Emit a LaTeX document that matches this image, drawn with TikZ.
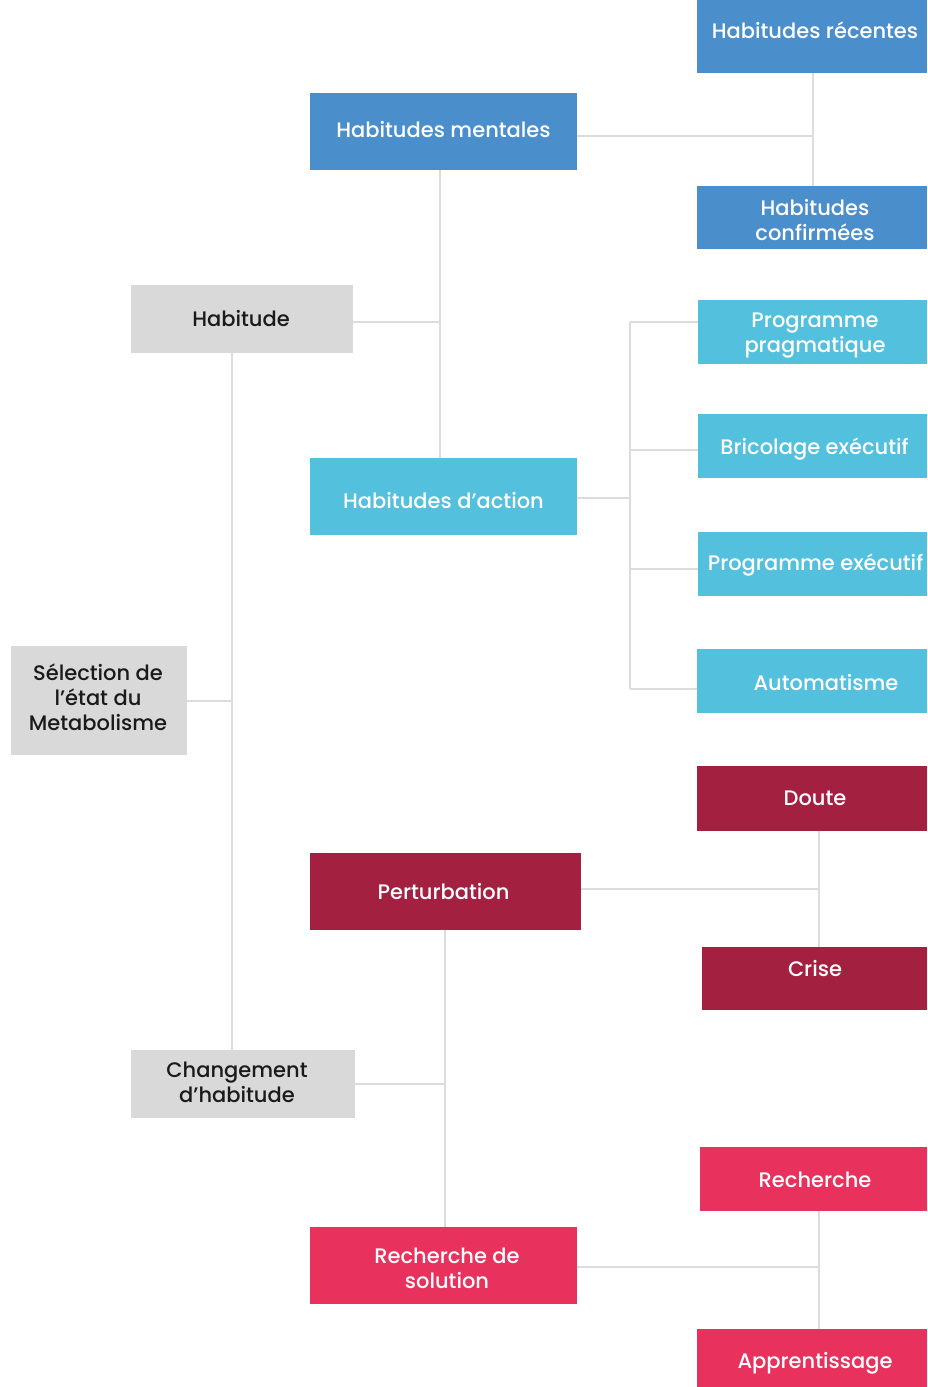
\documentclass[tikz,border=0pt]{standalone}
\usepackage{fontspec}
\setmainfont{Poppins}[UprightFont={* Medium}]
\definecolor{cblue}{HTML}{4B8ECC}
\definecolor{clight}{HTML}{53C0DE}
\definecolor{cgray}{HTML}{D9D9D9}
\definecolor{cdark}{HTML}{A32040}
\definecolor{cpink}{HTML}{E8315C}
\definecolor{cline}{HTML}{DCDCDC}
\definecolor{ctext}{HTML}{1A1A1A}
\begin{document}
\begin{tikzpicture}[x=1pt,y=-1pt,
  box/.style={rectangle,inner sep=0pt,draw=none},
  bluebox/.style={box,fill=cblue},
  lightbox/.style={box,fill=clight},
  graybox/.style={box,fill=cgray},
  darkbox/.style={box,fill=cdark},
  pinkbox/.style={box,fill=cpink},
  txt/.style={inner sep=0pt,align=center,font=\fontsize{21}{25}\selectfont,text=white},
  darktxt/.style={txt,text=ctext},
  wire/.style={draw=cline,line width=2.5pt}]
\useasboundingbox (0,0) rectangle (927,1387);

% boxes
\node[bluebox,minimum width=230,minimum height=73] (rec) at (812,36.5) {};
\node[bluebox,minimum width=267,minimum height=77] (men) at (443.5,131.5) {};
\node[bluebox,minimum width=230,minimum height=63] (con) at (812,217.5) {};
\node[graybox,minimum width=222,minimum height=68] (hab) at (242,319) {};
\node[lightbox,minimum width=229,minimum height=64] (pp) at (812.5,332) {};
\node[lightbox,minimum width=229,minimum height=64] (bri) at (812.5,446) {};
\node[lightbox,minimum width=267,minimum height=77] (act) at (443.5,496.5) {};
\node[lightbox,minimum width=229,minimum height=64] (pe) at (812.5,564) {};
\node[lightbox,minimum width=230,minimum height=64] (aut) at (812,681) {};
\node[graybox,minimum width=176,minimum height=109] (sel) at (99,700.5) {};
\node[darkbox,minimum width=230,minimum height=65] (dou) at (812,798.5) {};
\node[darkbox,minimum width=271,minimum height=77] (per) at (445.5,891.5) {};
\node[darkbox,minimum width=225,minimum height=63] (cri) at (814.5,978.5) {};
\node[graybox,minimum width=224,minimum height=68] (chg) at (243,1084) {};
\node[pinkbox,minimum width=227,minimum height=64] (rch) at (813.5,1179) {};
\node[pinkbox,minimum width=267,minimum height=77] (sol) at (443.5,1265.5) {};
\node[pinkbox,minimum width=230,minimum height=58] (app) at (812,1358) {};

% box texts
\node[txt] (rec-t) at ([shift={(3,-6.5)}]rec.center) {Habitudes récentes};
\node[txt] (men-t) at ([shift={(0,-2)}]men.center) {Habitudes mentales};
\node[txt] (con-t) at ([shift={(3,3)}]con.center) {Habitudes\\confirmées};
\node[darktxt] (hab-t) at ([shift={(-1,0)}]hab.center) {Habitude};
\node[txt] (pp-t) at ([shift={(2.5,4)}]pp.center) {Programme\\pragmatique};
\node[txt] (bri-t) at ([shift={(2,3)}]bri.center) {Bricolage exécutif};
\node[txt] (act-t) at ([shift={(0,4)}]act.center) {Habitudes d’action};
\node[txt] (pe-t) at ([shift={(3,1)}]pe.center) {Programme exécutif};
\node[txt] (aut-t) at ([shift={(14,1)}]aut.center) {Automatisme};
\node[darktxt] (sel-t) at ([shift={(-1,-3)}]sel.center) {Sélection de\\l’état du\\Metabolisme};
\node[txt] (dou-t) at ([shift={(3,0)}]dou.center) {Doute};
\node[txt] (per-t) at ([shift={(-2,0)}]per.center) {Perturbation};
\node[txt] (cri-t) at ([shift={(0.5,-10.5)}]cri.center) {Crise};
\node[darktxt] (chg-t) at ([shift={(-6,-2)}]chg.center) {Changement\\d’habitude};
\node[txt] (rch-t) at ([shift={(1.5,1)}]rch.center) {Recherche};
\node[txt] (sol-t) at ([shift={(3.5,3)}]sol.center) {Recherche de\\solution};
\node[txt] (app-t) at ([shift={(3,5)}]app.center) {Apprentissage};

% junction points
\coordinate (mv) at (813,136);
\coordinate (hv) at (440,322);
\coordinate (ab) at (630,498);
\coordinate (b1) at (630,322);
\coordinate (b2) at (630,450);
\coordinate (b3) at (630,569);
\coordinate (b4) at (630,689);
\coordinate (sv) at (232,701);
\coordinate (pv) at (819,889);
\coordinate (cv) at (445,1084);
\coordinate (rv) at (819,1267);

% mental habits branch
\draw[wire] (men.east |- mv) -- (mv);
\draw[wire] (mv |- rec.south) -- (mv |- con.north);
% habit to its two kinds
\draw[wire] (hab.east |- hv) -- (hv);
\draw[wire] (hv |- men.south) -- (hv |- act.north);
% action habits and their four forms
\draw[wire] (act.east |- ab) -- (ab);
\draw[wire] (b1) -- (b4);
\draw[wire] (b1) -- (b1 -| pp.west);
\draw[wire] (b2) -- (b2 -| bri.west);
\draw[wire] (b3) -- (b3 -| pe.west);
\draw[wire] (b4) -- (b4 -| aut.west);
% root
\draw[wire] (sel.east |- sv) -- (sv);
\draw[wire] (sv |- hab.south) -- (sv |- chg.north);
% perturbation branch
\draw[wire] (per.east |- pv) -- (pv);
\draw[wire] (pv |- dou.south) -- (pv |- cri.north);
% change of habit
\draw[wire] (chg.east |- cv) -- (cv);
\draw[wire] (cv |- per.south) -- (cv |- sol.north);
% solution search branch
\draw[wire] (sol.east |- rv) -- (rv);
\draw[wire] (rv |- rch.south) -- (rv |- app.north);
\end{tikzpicture}
\end{document}
